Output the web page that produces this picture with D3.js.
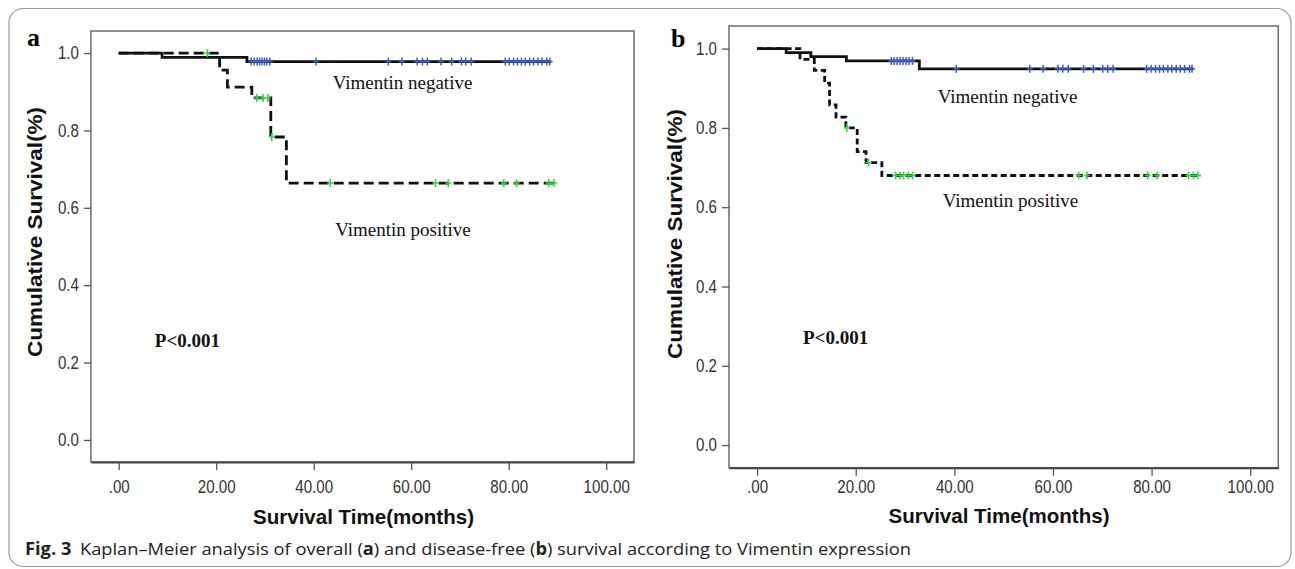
<!DOCTYPE html>
<html>
<head>
<meta charset="utf-8">
<script src="https://cdn.jsdelivr.net/npm/d3@7"></script>
<style>
  body { margin: 0; background: #fff; }
  svg { display: block; }
</style>
</head>
<body>
<svg id="chart" width="1295" height="569"></svg>
<script>
// Axis ticks (same for both panels)
const xTicks = [0, 20, 40, 60, 80, 100];
const xTickLabels = ['.00', '20.00', '40.00', '60.00', '80.00', '100.00'];
const yTicks = [0, 0.2, 0.4, 0.6, 0.8, 1.0];
const yTickLabels = ['0.0', '0.2', '0.4', '0.6', '0.8', '1.0'];

// Panel a: overall survival
const aNegTimes = [0, 8.9, 26.3, 88.7];
const aNegSurv = [1, 0.989, 0.978, 0.978];
const aNegCensor = [27.2, 27.8, 28.4, 28.9, 29.4, 29.9, 30.4, 31.0, 40.5, 55.3, 58.1, 61.2, 62.3, 63.3,
  66.1, 68.3, 70.3, 71.2, 72.3, 79.3, 80.1, 81.0, 81.8, 82.6, 83.4, 84.3, 85.1, 86.0, 86.8, 87.8, 88.4];
const aPosTimes = [0, 20.7, 22.3, 27.3, 31.2, 34.4, 89.7];
const aPosSurv = [1, 0.956, 0.912, 0.884, 0.783, 0.664, 0.664];
const aPosCensor = [18.2, 28.3, 29.6, 30.6, 31.4, 43.4, 65.0, 67.6, 79.0, 81.6, 88.2, 89.3];

// Panel b: disease-free survival
const bNegTimes = [0, 5.9, 10.9, 18.1, 32.9, 88.5];
const bNegSurv = [1, 0.99, 0.98, 0.969, 0.949, 0.949];
const bNegCensor = [27.2, 27.8, 28.4, 29.0, 29.6, 30.2, 30.8, 31.5, 40.4, 55.3, 58.0, 61.0, 62.0, 63.1,
  66.2, 68.2, 70.1, 71.1, 72.2, 79.0, 79.9, 80.8, 81.6, 82.4, 83.3, 84.1, 85.0, 85.8, 86.7, 87.7, 88.2];
const bPosTimes = [0, 8.7, 11.6, 13.7, 14.7, 16.0, 18.0, 20.3, 22.1, 25.3, 89.9];
const bPosSurv = [1, 0.973, 0.945, 0.913, 0.858, 0.827, 0.80, 0.74, 0.7125, 0.68, 0.68];
const bPosCensor = [18.2, 22.6, 28.1, 29.0, 29.7, 30.7, 31.5, 65.2, 66.9, 79.2, 81.1, 87.5, 88.5, 89.4];

const svg = d3.select('#chart');

// outer rounded box
svg.append('rect')
  .attr('x', 9).attr('y', 8.5)
  .attr('width', 1282).attr('height', 558)
  .attr('rx', 14)
  .attr('fill', '#fff')
  .attr('stroke', '#9a9a9a')
  .attr('stroke-width', 1.2);

function survAt(times, surv, t) {
  let v = surv[0];
  for (let i = 0; i < times.length; i++) {
    if (times[i] <= t) v = surv[i];
  }
  return v;
}

function drawPanel(p) {
  const x = d3.scaleLinear().domain([-5.7, 105.7]).range([p.left, p.right]);
  const y = d3.scaleLinear().domain([-0.057, 1.057]).range([p.bottom, p.top]);

  // frame
  svg.append('rect')
    .attr('x', p.left).attr('y', p.top)
    .attr('width', p.right - p.left).attr('height', p.bottom - p.top)
    .attr('fill', 'none')
    .attr('stroke', '#6a6a6a')
    .attr('stroke-width', 1.5);

  // x axis
  const gx = svg.append('g')
    .attr('transform', `translate(0, ${p.bottom})`)
    .call(d3.axisBottom(x).tickValues(xTicks)
      .tickFormat((d, i) => xTickLabels[i]).tickSize(8).tickSizeOuter(0).tickPadding(p.xPad));
  gx.select('.domain').attr('stroke', '#444').attr('stroke-width', 2);
  gx.selectAll('line').attr('stroke', '#555').attr('stroke-width', 1.3);
  gx.selectAll('text')
    .attr('transform', 'scale(0.84,1)')
    .style('font-family', '"Liberation Sans", Arial, sans-serif')
    .style('font-size', '18px')
    .style('fill', '#333');

  // y axis
  const gy = svg.append('g')
    .attr('transform', `translate(${p.left}, 0)`)
    .call(d3.axisLeft(y).tickValues(yTicks)
      .tickFormat((d, i) => yTickLabels[i]).tickSize(7).tickSizeOuter(0).tickPadding(5));
  gy.select('.domain').remove();
  gy.selectAll('line').attr('stroke', '#555').attr('stroke-width', 1.3);
  gy.selectAll('text')
    .attr('x', -12 / 0.84)
    .attr('transform', 'scale(0.84,1)')
    .style('font-family', '"Liberation Sans", Arial, sans-serif')
    .style('font-size', '18px')
    .style('fill', '#333');

  const line = d3.line()
    .x(d => x(d[0]))
    .y(d => y(d[1]))
    .curve(d3.curveStepAfter);

  // curves
  svg.append('path')
    .datum(p.negTimes.map((t, i) => [t, p.negSurv[i]]))
    .attr('fill', 'none')
    .attr('stroke', '#111')
    .attr('stroke-width', 2.8)
    .attr('d', line);

  svg.append('path')
    .datum(p.posTimes.map((t, i) => [t, p.posSurv[i]]))
    .attr('fill', 'none')
    .attr('stroke', '#111')
    .attr('stroke-width', 2.8)
    .attr('stroke-dasharray', p.dash)
    .attr('d', line);

  // censor marks
  function censor(list, times, surv, color) {
    const g = svg.append('g').attr('stroke', color).attr('stroke-width', 1.5);
    list.forEach(t => {
      const cx = x(t), cy = y(survAt(times, surv, t));
      g.append('line').attr('x1', cx).attr('x2', cx).attr('y1', cy - 4).attr('y2', cy + 4);
      g.append('line').attr('x1', cx - 3).attr('x2', cx + 3).attr('y1', cy).attr('y2', cy);
    });
  }
  censor(p.negCensor, p.negTimes, p.negSurv, '#3d5cc4');
  censor(p.posCensor, p.posTimes, p.posSurv, '#2bd63a');

  // annotations
  const serif = '"Liberation Serif", "Times New Roman", serif';
  svg.append('text').attr('x', p.negLab[0]).attr('y', p.negLab[1])
    .attr('text-anchor', 'middle')
    .style('font-family', serif).style('font-size', '19px').style('fill', '#111')
    .text('Vimentin negative');
  svg.append('text').attr('x', p.posLab[0]).attr('y', p.posLab[1])
    .attr('text-anchor', 'middle')
    .style('font-family', serif).style('font-size', '19px').style('fill', '#111')
    .text('Vimentin positive');
  svg.append('text').attr('x', p.pLab[0]).attr('y', p.pLab[1])
    .style('font-family', serif).style('font-size', '19px').style('font-weight', 'bold').style('fill', '#111')
    .text('P<0.001');

  // panel letter
  svg.append('text').attr('x', p.letter[0]).attr('y', p.letter[1])
    .style('font-family', serif).style('font-size', '26px').style('font-weight', 'bold')
    .text(p.name);

  // axis titles
  svg.append('text')
    .attr('x', p.xTitle[0]).attr('y', p.xTitle[1])
    .attr('text-anchor', 'middle')
    .attr('textLength', 221).attr('lengthAdjust', 'spacingAndGlyphs')
    .style('font-family', '"Liberation Sans", Arial, sans-serif')
    .style('font-size', '21px').style('font-weight', 'bold').style('fill', '#111')
    .text('Survival Time(months)');

  svg.append('text')
    .attr('transform', `translate(${p.yTitle[0]}, ${p.yTitle[1]}) rotate(-90) scale(1,0.88)`)
    .attr('text-anchor', 'middle')
    .attr('textLength', 250).attr('lengthAdjust', 'spacingAndGlyphs')
    .style('font-family', '"Liberation Sans", Arial, sans-serif')
    .style('font-size', '22px').style('font-weight', 'bold').style('fill', '#111')
    .text('Cumulative Survival(%)');
}

drawPanel({
  name: 'a', left: 90.9, right: 634, top: 31, bottom: 462, xPad: 10, dash: '10,5',
  negTimes: aNegTimes, negSurv: aNegSurv, negCensor: aNegCensor,
  posTimes: aPosTimes, posSurv: aPosSurv, posCensor: aPosCensor,
  negLab: [402.5, 89], posLab: [403, 236], pLab: [154.8, 346.5],
  letter: [27, 46], xTitle: [363.5, 524], yTitle: [41.5, 232]
});

drawPanel({
  name: 'b', left: 729, right: 1278.3, top: 26, bottom: 467.7, xPad: 5, dash: '6,3.5',
  negTimes: bNegTimes, negSurv: bNegSurv, negCensor: bNegCensor,
  posTimes: bPosTimes, posSurv: bPosSurv, posCensor: bPosCensor,
  negLab: [1007.6, 103.3], posLab: [1010.5, 206.7], pLab: [803, 344],
  letter: [671, 47], xTitle: [999, 523.3], yTitle: [682, 234]
});

// caption
const cap = svg.append('text')
  .attr('x', 25).attr('y', 555)
  .attr('textLength', 886).attr('lengthAdjust', 'spacingAndGlyphs')
  .style('font-family', '"Open Sans", "Noto Sans", sans-serif')
  .style('font-size', '17px')
  .style('fill', '#222');
cap.append('tspan').style('font-weight', 'bold').text('Fig. 3');
cap.append('tspan').attr('dx', 8).text('Kaplan–Meier analysis of overall (');
cap.append('tspan').style('font-weight', 'bold').text('a');
cap.append('tspan').text(') and disease-free (');
cap.append('tspan').style('font-weight', 'bold').text('b');
cap.append('tspan').text(') survival according to Vimentin expression');
</script>
</body>
</html>
